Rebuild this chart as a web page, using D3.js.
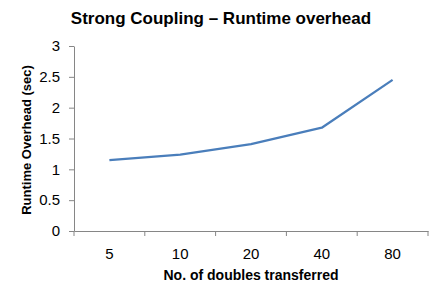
<!DOCTYPE html>
<html>
<head>
<meta charset="utf-8">
<script src="https://cdn.jsdelivr.net/npm/d3@7"></script>
<style>
  body { margin: 0; background: #fff; }
  text { font-family: "Liberation Sans", "DejaVu Sans", sans-serif; fill: #000; }
  .axis-title { font-weight: bold; font-size: 14px; }
  .tick text { font-size: 15px; }
</style>
</head>
<body>
<div id="chart"></div>
<script>
// data
var categories = ["5", "10", "20", "40", "80"];
var overhead = [1.15, 1.24, 1.41, 1.675, 2.45];
var yTicks = [0, 0.5, 1, 1.5, 2, 2.5, 3];

var W = 441, H = 294;
var margin = {top: 46, right: 13, bottom: 63, left: 74},
    width = W - margin.left - margin.right,
    height = H - margin.top - margin.bottom;

var svg = d3.select("#chart")
  .append("svg")
    .attr("width", W)
    .attr("height", H)
  .append("g")
    .attr("transform", "translate(" + margin.left + "," + margin.top + ")");

var x = d3.scaleBand()
  .domain(categories)
  .range([0, width]);

var y = d3.scaleLinear()
  .domain([0, 3])
  .range([height, 0]);

// y axis
var yAxis = svg.append("g")
  .call(d3.axisLeft(y).tickValues(yTicks).tickFormat(d3.format("")).tickSize(5).tickSizeOuter(0).tickPadding(9));

// x axis: ticks on the band edges
var xAxis = svg.append("g")
  .attr("transform", "translate(0," + height + ")")
  .call(d3.axisBottom(x).tickSize(0).tickPadding(17));

xAxis.selectAll(".edge")
  .data(d3.range(categories.length + 1))
  .enter().append("line")
    .attr("class", "edge")
    .attr("x1", function(i) { return i * x.step(); })
    .attr("x2", function(i) { return i * x.step(); })
    .attr("y1", 0)
    .attr("y2", 5);

svg.selectAll(".domain, .tick line, .edge")
  .attr("stroke", "#868686")
  .attr("stroke-width", 1);

// the line
var line = d3.line()
  .x(function(d, i) { return x(categories[i]) + x.bandwidth() / 2; })
  .y(function(d) { return y(d); });

svg.append("path")
  .datum(overhead)
  .attr("d", line)
  .attr("fill", "none")
  .attr("stroke", "#4a7ebb")
  .attr("stroke-width", 2.25)
  .attr("stroke-linejoin", "round");

// titles
d3.select("svg").append("text")
  .attr("x", 221)
  .attr("y", 24)
  .attr("text-anchor", "middle")
  .style("font-weight", "bold")
  .style("font-size", "17px")
  .text("Strong Coupling \u2013 Runtime overhead");

d3.select("svg").append("text")
  .attr("class", "axis-title")
  .attr("text-anchor", "middle")
  .attr("x", 251)
  .attr("y", 280)
  .text("No. of doubles transferred");

d3.select("svg").append("text")
  .attr("class", "axis-title")
  .attr("text-anchor", "middle")
  .style("font-size", "13px")
  .attr("transform", "translate(31,140) rotate(-90)")
  .text("Runtime Overhead (sec)");
</script>
</body>
</html>
